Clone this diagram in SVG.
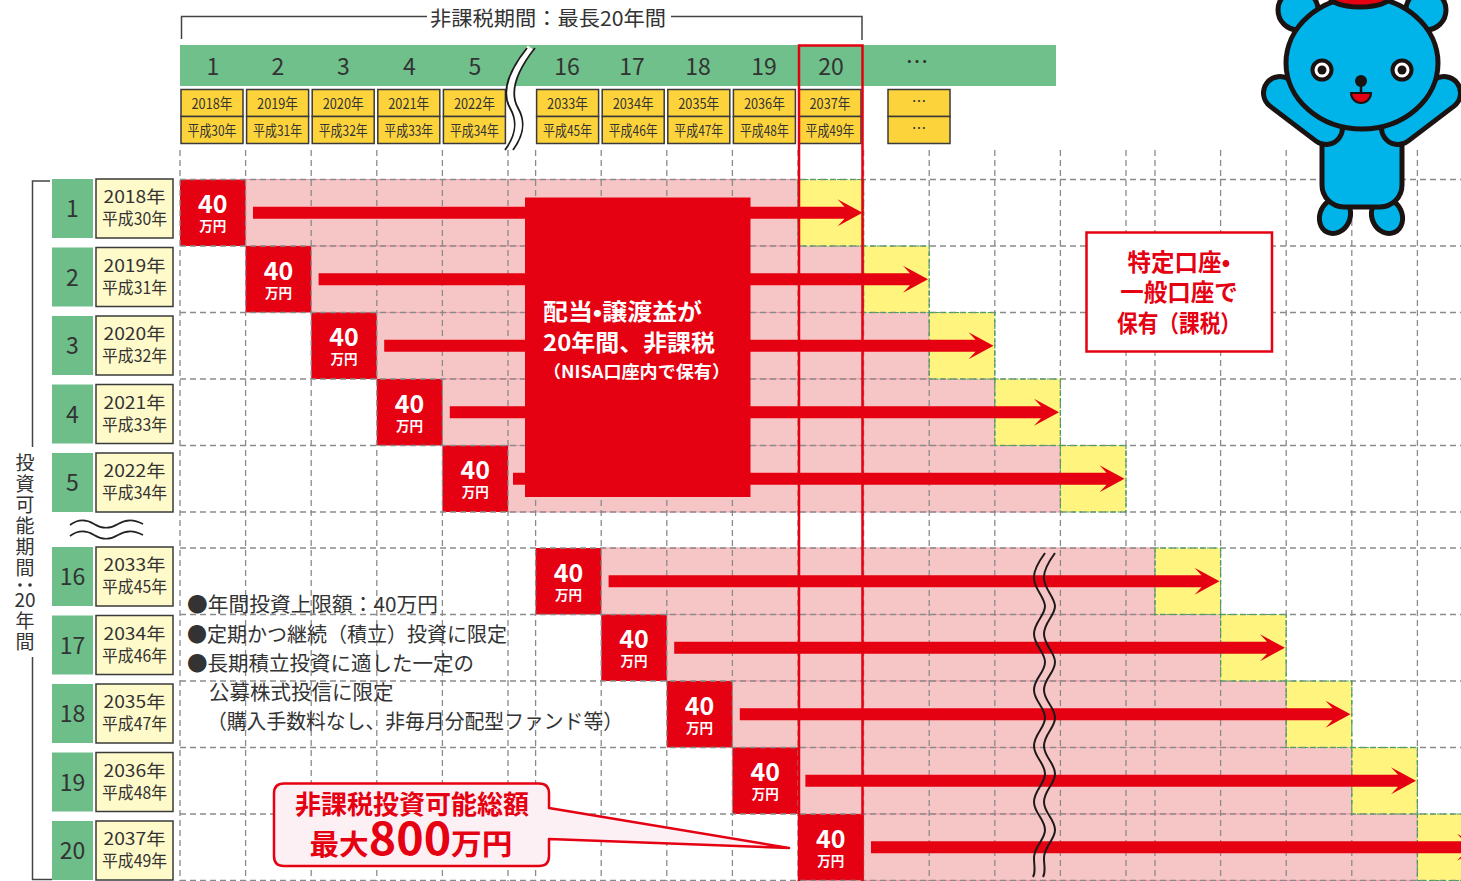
<svg xmlns="http://www.w3.org/2000/svg" width="1461" height="881" viewBox="0 0 1461 881">
  <defs>
    <style>
      .jp { font-family: "Noto Sans CJK JP", "Noto Sans", sans-serif; }
      .grid { stroke: #8a8a8a; stroke-width: 1.3; stroke-dasharray: 6 4; fill: none; }
      .pink { fill: #f6c6c6; stroke: #ef97a3; stroke-width: 1; }
      .tax { fill: #fff47e; }
      .taxedge { fill: none; stroke: #3ea75a; stroke-width: 1.2; stroke-dasharray: 4 2.5; }
      .amt { fill: #e50012; }
      .amt40 { font-size: 25px; font-weight: 700; fill: #fff; text-anchor: middle; }
      .amtyen { font-size: 13.5px; font-weight: 700; fill: #fff; text-anchor: middle; }
      .arrow { fill: #e50012; }
      .hdrnum { font-size: 23px; fill: #333; text-anchor: middle; }
      .ybox { fill: #fdd33c; stroke: #3a3a3a; stroke-width: 1.5; }
      .ytxt { font-size: 14.5px; fill: #333; text-anchor: middle; }
      .rowno { fill: #6dbe89; }
      .rownum { font-size: 23px; fill: #333; text-anchor: middle; }
      .rowyear { fill: #fffaca; stroke: #3a3a3a; stroke-width: 1.5; }
      .rowytxt { font-size: 17px; fill: #333; text-anchor: middle; }
      .note { font-size: 20.5px; fill: #333; }
      .vlabel { font-size: 19px; fill: #333; text-anchor: middle; }
      .ink { stroke: #1a1311; stroke-width: 5; stroke-linejoin: round; }
    </style>
  </defs>

  <rect width="1461" height="881" fill="#fff"/>

  <!-- holding periods: pink = tax-free years, yellow = moved to taxable account -->
  <g id="periods">
    <rect class="pink" x="245.6" y="179.5" width="552.4" height="66.5"/>
    <rect class="pink" x="311.2" y="246" width="552.4" height="66.5"/>
    <rect class="pink" x="376.8" y="312.5" width="552.4" height="66.5"/>
    <rect class="pink" x="442.4" y="379" width="552.4" height="66.5"/>
    <rect class="pink" x="508" y="445.5" width="552.4" height="66.5"/>
    <rect class="pink" x="601.2" y="548" width="553.8" height="66.5"/>
    <rect class="pink" x="666.8" y="614.5" width="553.8" height="66.5"/>
    <rect class="pink" x="732.4" y="681" width="553.8" height="66.5"/>
    <rect class="pink" x="798" y="747.5" width="553.8" height="66.5"/>
    <rect class="pink" x="863.6" y="814" width="553.8" height="66.5"/>

    <rect class="tax" x="798" y="179.5" width="65.6" height="66.5"/>
    <rect class="tax" x="863.6" y="246" width="65.6" height="66.5"/>
    <rect class="tax" x="929.2" y="312.5" width="65.6" height="66.5"/>
    <rect class="tax" x="994.8" y="379" width="65.6" height="66.5"/>
    <rect class="tax" x="1060.4" y="445.5" width="65.6" height="66.5"/>
    <rect class="tax" x="1155" y="548" width="65.6" height="66.5"/>
    <rect class="tax" x="1220.6" y="614.5" width="65.6" height="66.5"/>
    <rect class="tax" x="1286.2" y="681" width="65.6" height="66.5"/>
    <rect class="tax" x="1351.8" y="747.5" width="65.6" height="66.5"/>
    <rect class="tax" x="1417.4" y="814" width="65.6" height="66.5"/>
  </g>

  <!-- yearly 40万円 investments -->
  <g id="investments" class="jp">
    <rect class="amt" x="180" y="179.5" width="65.6" height="66.5"/>
    <rect class="amt" x="245.6" y="246" width="65.6" height="66.5"/>
    <rect class="amt" x="311.2" y="312.5" width="65.6" height="66.5"/>
    <rect class="amt" x="376.8" y="379" width="65.6" height="66.5"/>
    <rect class="amt" x="442.4" y="445.5" width="65.6" height="66.5"/>
    <rect class="amt" x="535.6" y="548" width="65.6" height="66.5"/>
    <rect class="amt" x="601.2" y="614.5" width="65.6" height="66.5"/>
    <rect class="amt" x="666.8" y="681" width="65.6" height="66.5"/>
    <rect class="amt" x="732.4" y="747.5" width="65.6" height="66.5"/>
    <rect class="amt" x="798" y="814" width="65.6" height="66.5"/>

    <text class="amt40" x="212.8" y="213">40</text><text class="amtyen" x="212.8" y="231">万円</text>
    <text class="amt40" x="278.4" y="279.5">40</text><text class="amtyen" x="278.4" y="297.5">万円</text>
    <text class="amt40" x="344" y="346">40</text><text class="amtyen" x="344" y="364">万円</text>
    <text class="amt40" x="409.6" y="412.5">40</text><text class="amtyen" x="409.6" y="430.5">万円</text>
    <text class="amt40" x="475.2" y="479">40</text><text class="amtyen" x="475.2" y="497">万円</text>
    <text class="amt40" x="568.4" y="581.5">40</text><text class="amtyen" x="568.4" y="599.5">万円</text>
    <text class="amt40" x="634" y="648">40</text><text class="amtyen" x="634" y="666">万円</text>
    <text class="amt40" x="699.6" y="714.5">40</text><text class="amtyen" x="699.6" y="732.5">万円</text>
    <text class="amt40" x="765.2" y="781">40</text><text class="amtyen" x="765.2" y="799">万円</text>
    <text class="amt40" x="830.8" y="847.5">40</text><text class="amtyen" x="830.8" y="865.5">万円</text>
  </g>

  <!-- dashed year grid -->
  <g id="grid" class="grid">
    <path d="M180 150V881M245.6 150V881M311.2 150V881M376.8 150V881M442.4 150V881M508 150V881M535.6 150V881M601.2 150V881M666.8 150V881M732.4 150V881M798 150V881M863.6 150V881M929.2 150V881M994.8 150V881M1060.4 150V881M1126 150V881M1155 150V881M1220.6 150V881M1286.2 150V881M1351.8 150V881M1417.4 150V881"/>
    <path d="M180 179.5H1461M180 246H1461M180 312.5H1461M180 379H1461M180 445.5H1461M180 512H1461M180 548H1461M180 614.5H1461M180 681H1461M180 747.5H1461M180 814H1461M180 880.5H1461"/>
  </g>

  <g id="taxable-edges">
    <rect class="taxedge" x="798" y="179.5" width="65.6" height="66.5"/>
    <rect class="taxedge" x="863.6" y="246" width="65.6" height="66.5"/>
    <rect class="taxedge" x="929.2" y="312.5" width="65.6" height="66.5"/>
    <rect class="taxedge" x="994.8" y="379" width="65.6" height="66.5"/>
    <rect class="taxedge" x="1060.4" y="445.5" width="65.6" height="66.5"/>
    <rect class="taxedge" x="1155" y="548" width="65.6" height="66.5"/>
    <rect class="taxedge" x="1220.6" y="614.5" width="65.6" height="66.5"/>
    <rect class="taxedge" x="1286.2" y="681" width="65.6" height="66.5"/>
    <rect class="taxedge" x="1351.8" y="747.5" width="65.6" height="66.5"/>
    <rect class="taxedge" x="1417.4" y="814" width="65.6" height="66.5"/>
  </g>

  <!-- holding arrows, one per investment year -->
  <g id="connectors" class="arrow">
    <path d="M253 206.75H844.5Q841.5 203.5 837.5 199.25L862.5 212.75L837.5 226.25Q841.5 222 844.5 218.75H253Z"/>
    <path d="M318.6 273.25H910Q907 270 903 265.75L928 279.25L903 292.75Q907 288.5 910 285.25H318.6Z"/>
    <path d="M384.2 339.75H975.5Q972.5 336.5 968.5 332.25L993.5 345.75L968.5 359.25Q972.5 355 975.5 351.75H384.2Z"/>
    <path d="M449.8 406.25H1041Q1038 403 1034 398.75L1059 412.25L1034 425.75Q1038 421.5 1041 418.25H449.8Z"/>
    <path d="M513 472.75H1106.5Q1103.5 469.5 1099.5 465.25L1124.5 478.75L1099.5 492.25Q1103.5 488 1106.5 484.75H513Z"/>
    <path d="M608.6 575.25H1201.5Q1198.5 572 1194.5 567.75L1219.5 581.25L1194.5 594.75Q1198.5 590.5 1201.5 587.25H608.6Z"/>
    <path d="M674.2 641.75H1267Q1264 638.5 1260 634.25L1285 647.75L1260 661.25Q1264 657 1267 653.75H674.2Z"/>
    <path d="M739.8 708.25H1332.5Q1329.5 705 1325.5 700.75L1350.5 714.25L1325.5 727.75Q1329.5 723.5 1332.5 720.25H739.8Z"/>
    <path d="M805.4 774.75H1398Q1395 771.5 1391 767.25L1416 780.75L1391 794.25Q1395 790 1398 786.75H805.4Z"/>
    <path d="M871 841.25H1464Q1461 838 1457 833.75L1482 847.25L1457 860.75Q1461 856.5 1464 853.25H871Z"/>
  </g>

  <!-- break marks on the long lower rows -->
  <g id="row-break" fill="none" stroke="#1e1a1a" stroke-width="2">
    <path d="M1045 553C1037 564 1033 572 1034 579C1035 590 1044 596 1045 606C1045 616 1034 622 1034 634C1034 645 1045 652 1045 662C1045 673 1034 678 1034 690C1034 701 1045 707 1045 718C1045 728 1034 734 1034 746C1034 757 1045 763 1045 774C1045 784 1034 790 1034 802C1034 813 1045 819 1045 830C1045 840 1034 846 1034 858C1034 866 1036 872 1033 877"/>
    <path d="M1055 553C1047 564 1043 572 1044 579C1045 590 1054 596 1055 606C1055 616 1044 622 1044 634C1044 645 1055 652 1055 662C1055 673 1044 678 1044 690C1044 701 1055 707 1055 718C1055 728 1044 734 1044 746C1044 757 1055 763 1055 774C1055 784 1044 790 1044 802C1044 813 1055 819 1055 830C1055 840 1044 846 1044 858C1044 866 1046 872 1043 877"/>
  </g>

  <!-- tax-free benefit block -->
  <g id="taxfree-block" class="jp">
    <rect x="525" y="197.5" width="225.5" height="299.5" fill="#e50012"/>
    <text x="543" y="320" font-size="22.5" font-weight="700" fill="#fff" textLength="159" lengthAdjust="spacingAndGlyphs">配当•譲渡益が</text>
    <text x="543" y="351" font-size="22.5" font-weight="700" fill="#fff" textLength="172" lengthAdjust="spacingAndGlyphs">20年間、非課税</text>
    <text x="543" y="378" font-size="17" font-weight="700" fill="#fff" textLength="187" lengthAdjust="spacingAndGlyphs">（NISA口座内で保有）</text>
  </g>

  <!-- header: tax-free span bracket -->
  <g id="span-label" class="jp">
    <path d="M181.5 39V16.5H427M671 16.5H862V40" fill="none" stroke="#444" stroke-width="1.5"/>
    <text x="430" y="26" font-size="20.5" fill="#333" textLength="236" lengthAdjust="spacingAndGlyphs">非課税期間：最長20年間</text>
  </g>

  <!-- header: year numbers -->
  <g id="year-header" class="jp">
    <rect x="180" y="45" width="876" height="41" fill="#70c08b"/>
    <text class="hdrnum" x="213" y="75">1</text>
    <text class="hdrnum" x="278" y="75">2</text>
    <text class="hdrnum" x="343.5" y="75">3</text>
    <text class="hdrnum" x="409.5" y="75">4</text>
    <text class="hdrnum" x="475" y="75">5</text>
    <text class="hdrnum" x="567" y="75">16</text>
    <text class="hdrnum" x="632" y="75">17</text>
    <text class="hdrnum" x="698" y="75">18</text>
    <text class="hdrnum" x="764" y="75">19</text>
    <text class="hdrnum" x="831" y="75">20</text>
    <text class="hdrnum" x="917" y="70" font-size="18">…</text>
  </g>

  <!-- header: calendar years -->
  <g id="calendar-header" class="jp">
    <rect class="ybox" x="181" y="89.5" width="62" height="27"/><rect class="ybox" x="181" y="116.5" width="62" height="27"/>
    <rect class="ybox" x="246.6" y="89.5" width="62" height="27"/><rect class="ybox" x="246.6" y="116.5" width="62" height="27"/>
    <rect class="ybox" x="312.2" y="89.5" width="62" height="27"/><rect class="ybox" x="312.2" y="116.5" width="62" height="27"/>
    <rect class="ybox" x="377.8" y="89.5" width="62" height="27"/><rect class="ybox" x="377.8" y="116.5" width="62" height="27"/>
    <rect class="ybox" x="443.4" y="89.5" width="62" height="27"/><rect class="ybox" x="443.4" y="116.5" width="62" height="27"/>
    <rect class="ybox" x="536.6" y="89.5" width="62" height="27"/><rect class="ybox" x="536.6" y="116.5" width="62" height="27"/>
    <rect class="ybox" x="602.2" y="89.5" width="62" height="27"/><rect class="ybox" x="602.2" y="116.5" width="62" height="27"/>
    <rect class="ybox" x="667.8" y="89.5" width="62" height="27"/><rect class="ybox" x="667.8" y="116.5" width="62" height="27"/>
    <rect class="ybox" x="733.4" y="89.5" width="62" height="27"/><rect class="ybox" x="733.4" y="116.5" width="62" height="27"/>
    <rect class="ybox" x="799" y="89.5" width="62" height="27"/><rect class="ybox" x="799" y="116.5" width="62" height="27"/>
    <rect class="ybox" x="888" y="89.5" width="62" height="27"/><rect class="ybox" x="888" y="116.5" width="62" height="27"/>

    <text class="ytxt" x="212" y="108.5" textLength="41" lengthAdjust="spacingAndGlyphs">2018年</text>
    <text class="ytxt" x="277.6" y="108.5" textLength="41" lengthAdjust="spacingAndGlyphs">2019年</text>
    <text class="ytxt" x="343.2" y="108.5" textLength="41" lengthAdjust="spacingAndGlyphs">2020年</text>
    <text class="ytxt" x="408.8" y="108.5" textLength="41" lengthAdjust="spacingAndGlyphs">2021年</text>
    <text class="ytxt" x="474.4" y="108.5" textLength="41" lengthAdjust="spacingAndGlyphs">2022年</text>
    <text class="ytxt" x="567.6" y="108.5" textLength="41" lengthAdjust="spacingAndGlyphs">2033年</text>
    <text class="ytxt" x="633.2" y="108.5" textLength="41" lengthAdjust="spacingAndGlyphs">2034年</text>
    <text class="ytxt" x="698.8" y="108.5" textLength="41" lengthAdjust="spacingAndGlyphs">2035年</text>
    <text class="ytxt" x="764.4" y="108.5" textLength="41" lengthAdjust="spacingAndGlyphs">2036年</text>
    <text class="ytxt" x="830" y="108.5" textLength="41" lengthAdjust="spacingAndGlyphs">2037年</text>
    <text class="ytxt" x="919" y="107">…</text>

    <text class="ytxt" x="212" y="135.5" textLength="49" lengthAdjust="spacingAndGlyphs">平成30年</text>
    <text class="ytxt" x="277.6" y="135.5" textLength="49" lengthAdjust="spacingAndGlyphs">平成31年</text>
    <text class="ytxt" x="343.2" y="135.5" textLength="49" lengthAdjust="spacingAndGlyphs">平成32年</text>
    <text class="ytxt" x="408.8" y="135.5" textLength="49" lengthAdjust="spacingAndGlyphs">平成33年</text>
    <text class="ytxt" x="474.4" y="135.5" textLength="49" lengthAdjust="spacingAndGlyphs">平成34年</text>
    <text class="ytxt" x="567.6" y="135.5" textLength="49" lengthAdjust="spacingAndGlyphs">平成45年</text>
    <text class="ytxt" x="633.2" y="135.5" textLength="49" lengthAdjust="spacingAndGlyphs">平成46年</text>
    <text class="ytxt" x="698.8" y="135.5" textLength="49" lengthAdjust="spacingAndGlyphs">平成47年</text>
    <text class="ytxt" x="764.4" y="135.5" textLength="49" lengthAdjust="spacingAndGlyphs">平成48年</text>
    <text class="ytxt" x="830" y="135.5" textLength="49" lengthAdjust="spacingAndGlyphs">平成49年</text>
    <text class="ytxt" x="919" y="134">…</text>
  </g>

  <!-- header break mark between year 5 and year 16 -->
  <g id="header-break" fill="none">
    <path d="M531 48C512 72 505 92 514 108C522 122 520 135 509 150" stroke="#fff" stroke-width="8"/>
    <path d="M527 48C508 72 501 92 510 108C518 122 516 135 505 150" stroke="#1e1a1a" stroke-width="1.8"/>
    <path d="M535 48C516 72 509 92 518 108C526 122 524 135 513 150" stroke="#1e1a1a" stroke-width="1.8"/>
  </g>

  <!-- year-20 highlight column -->
  <rect id="year20-frame" x="799" y="45.5" width="63.5" height="837" fill="none" stroke="#e50012" stroke-width="2.5"/>

  <!-- investment period rows -->
  <g id="row-labels" class="jp">
    <rect class="rowno" x="52" y="179" width="41" height="59"/><rect class="rowyear" x="96" y="179" width="77" height="59"/>
    <text class="rownum" x="72.5" y="217">1</text><text class="rowytxt" x="134.5" y="203" textLength="62" lengthAdjust="spacingAndGlyphs">2018年</text><text class="rowytxt" x="134.5" y="225" textLength="65" lengthAdjust="spacingAndGlyphs">平成30年</text>

    <rect class="rowno" x="52" y="247.5" width="41" height="59"/><rect class="rowyear" x="96" y="247.5" width="77" height="59"/>
    <text class="rownum" x="72.5" y="285.5">2</text><text class="rowytxt" x="134.5" y="271.5" textLength="62" lengthAdjust="spacingAndGlyphs">2019年</text><text class="rowytxt" x="134.5" y="293.5" textLength="65" lengthAdjust="spacingAndGlyphs">平成31年</text>

    <rect class="rowno" x="52" y="316" width="41" height="59"/><rect class="rowyear" x="96" y="316" width="77" height="59"/>
    <text class="rownum" x="72.5" y="354">3</text><text class="rowytxt" x="134.5" y="340" textLength="62" lengthAdjust="spacingAndGlyphs">2020年</text><text class="rowytxt" x="134.5" y="362" textLength="65" lengthAdjust="spacingAndGlyphs">平成32年</text>

    <rect class="rowno" x="52" y="384.5" width="41" height="59"/><rect class="rowyear" x="96" y="384.5" width="77" height="59"/>
    <text class="rownum" x="72.5" y="422.5">4</text><text class="rowytxt" x="134.5" y="408.5" textLength="62" lengthAdjust="spacingAndGlyphs">2021年</text><text class="rowytxt" x="134.5" y="430.5" textLength="65" lengthAdjust="spacingAndGlyphs">平成33年</text>

    <rect class="rowno" x="52" y="453" width="41" height="59"/><rect class="rowyear" x="96" y="453" width="77" height="59"/>
    <text class="rownum" x="72.5" y="491">5</text><text class="rowytxt" x="134.5" y="477" textLength="62" lengthAdjust="spacingAndGlyphs">2022年</text><text class="rowytxt" x="134.5" y="499" textLength="65" lengthAdjust="spacingAndGlyphs">平成34年</text>

    <rect class="rowno" x="52" y="547" width="41" height="59"/><rect class="rowyear" x="96" y="547" width="77" height="59"/>
    <text class="rownum" x="72.5" y="585">16</text><text class="rowytxt" x="134.5" y="571" textLength="62" lengthAdjust="spacingAndGlyphs">2033年</text><text class="rowytxt" x="134.5" y="593" textLength="65" lengthAdjust="spacingAndGlyphs">平成45年</text>

    <rect class="rowno" x="52" y="615.5" width="41" height="59"/><rect class="rowyear" x="96" y="615.5" width="77" height="59"/>
    <text class="rownum" x="72.5" y="653.5">17</text><text class="rowytxt" x="134.5" y="639.5" textLength="62" lengthAdjust="spacingAndGlyphs">2034年</text><text class="rowytxt" x="134.5" y="661.5" textLength="65" lengthAdjust="spacingAndGlyphs">平成46年</text>

    <rect class="rowno" x="52" y="684" width="41" height="59"/><rect class="rowyear" x="96" y="684" width="77" height="59"/>
    <text class="rownum" x="72.5" y="722">18</text><text class="rowytxt" x="134.5" y="708" textLength="62" lengthAdjust="spacingAndGlyphs">2035年</text><text class="rowytxt" x="134.5" y="730" textLength="65" lengthAdjust="spacingAndGlyphs">平成47年</text>

    <rect class="rowno" x="52" y="752.5" width="41" height="59"/><rect class="rowyear" x="96" y="752.5" width="77" height="59"/>
    <text class="rownum" x="72.5" y="790.5">19</text><text class="rowytxt" x="134.5" y="776.5" textLength="62" lengthAdjust="spacingAndGlyphs">2036年</text><text class="rowytxt" x="134.5" y="798.5" textLength="65" lengthAdjust="spacingAndGlyphs">平成48年</text>

    <rect class="rowno" x="52" y="821" width="41" height="59"/><rect class="rowyear" x="96" y="821" width="77" height="59"/>
    <text class="rownum" x="72.5" y="859">20</text><text class="rowytxt" x="134.5" y="845" textLength="62" lengthAdjust="spacingAndGlyphs">2037年</text><text class="rowytxt" x="134.5" y="867" textLength="65" lengthAdjust="spacingAndGlyphs">平成49年</text>

    <!-- omitted rows -->
    <path d="M70 525C78 519 86 519 94 524C102 529 110 529 118 524C126 519 134 519 143 524M70 536C78 530 86 530 94 535C102 540 110 540 118 535C126 530 134 530 143 535" fill="none" stroke="#222" stroke-width="1.6"/>
  </g>

  <!-- investable period bracket -->
  <g id="invest-span" class="jp">
    <path d="M50 181H32.5V447M32.5 657V879.5H52" fill="none" stroke="#444" stroke-width="1.5"/>
    <text class="vlabel" x="25" y="470">投</text>
    <text class="vlabel" x="25" y="491">資</text>
    <text class="vlabel" x="25" y="512">可</text>
    <text class="vlabel" x="25" y="533">能</text>
    <text class="vlabel" x="25" y="554">期</text>
    <text class="vlabel" x="25" y="575">間</text>
    <circle cx="20" cy="585" r="1.8" fill="#333"/><circle cx="30" cy="585" r="1.8" fill="#333"/>
    <text class="vlabel" x="25" y="607" font-size="19">20</text>
    <text class="vlabel" x="25" y="628">年</text>
    <text class="vlabel" x="25" y="649">間</text>
  </g>

  <!-- program rules -->
  <g id="rules" class="jp note">
    <text x="187" y="612" textLength="251" lengthAdjust="spacingAndGlyphs">●年間投資上限額：40万円</text>
    <text x="187" y="641.5" textLength="320" lengthAdjust="spacingAndGlyphs">●定期かつ継続（積立）投資に限定</text>
    <text x="187" y="670.5">●長期積立投資に適した一定の</text>
    <text x="209" y="700">公募株式投信に限定</text>
    <text x="207" y="729" textLength="416" lengthAdjust="spacingAndGlyphs">（購入手数料なし、非毎月分配型ファンド等）</text>
  </g>

  <!-- taxable account note -->
  <g id="taxable-note" class="jp">
    <rect x="1086.5" y="232.5" width="185.5" height="119" fill="#fff" stroke="#e50012" stroke-width="2.5"/>
    <text x="1179" y="270.5" font-size="23.5" font-weight="700" fill="#e50012" text-anchor="middle">特定口座•</text>
    <text x="1179" y="301" font-size="23.5" font-weight="700" fill="#e50012" text-anchor="middle">一般口座で</text>
    <text x="1179" y="332" font-size="23.5" font-weight="700" fill="#e50012" text-anchor="middle" textLength="124" lengthAdjust="spacingAndGlyphs">保有（課税）</text>
  </g>

  <!-- total amount callout -->
  <g id="total-callout" class="jp">
    <path d="M284 783.5H539Q549 783.5 549 793.5V808L789 848L549 839V856Q549 866 539 866H284Q274 866 274 856V793.5Q274 783.5 284 783.5Z" fill="#fdf0f5" stroke="#e50012" stroke-width="2.5" stroke-linejoin="round"/>
    <text x="412" y="814" font-size="26" font-weight="700" fill="#e50012" text-anchor="middle">非課税投資可能総額</text>
    <text x="411" y="855" font-weight="700" fill="#e50012" text-anchor="middle" textLength="203" lengthAdjust="spacingAndGlyphs"><tspan font-size="28">最大</tspan><tspan font-size="44">800</tspan><tspan font-size="29">万円</tspan></text>
  </g>

  <!-- mascot -->
  <g id="mascot">
    <ellipse cx="1335" cy="216" rx="15" ry="18" transform="rotate(25 1335 216)" fill="#00b3e8" class="ink"/>
    <ellipse cx="1387" cy="216" rx="15" ry="18" transform="rotate(-25 1387 216)" fill="#00b3e8" class="ink"/>
    <rect x="1322" y="115" width="80" height="92" rx="22" fill="#00b3e8" class="ink"/>
    <path d="M1280 93L1326 128M1444 93L1398 128" stroke="#1a1311" stroke-width="38" stroke-linecap="round" fill="none"/>
    <path d="M1280 93L1326 128M1444 93L1398 128" stroke="#00b3e8" stroke-width="28" stroke-linecap="round" fill="none"/>
    <circle cx="1298" cy="10" r="20" fill="#00b3e8" class="ink"/>
    <circle cx="1426" cy="10" r="20" fill="#00b3e8" class="ink"/>
    <ellipse cx="1362" cy="63" rx="76" ry="66" fill="#00b3e8" class="ink"/>
    <ellipse cx="1360" cy="-3" rx="30" ry="10" fill="#e50012" class="ink" stroke-width="3"/>
    <circle cx="1322" cy="70" r="9.5" fill="#fff" stroke="#1a1311" stroke-width="4"/>
    <circle cx="1322" cy="70" r="4.5" fill="#1a1311"/>
    <circle cx="1402" cy="70" r="9.5" fill="#fff" stroke="#1a1311" stroke-width="4"/>
    <circle cx="1402" cy="70" r="4.5" fill="#1a1311"/>
    <circle cx="1361" cy="81" r="6" fill="#1a1311"/>
    <path d="M1361 82V93" stroke="#1a1311" stroke-width="2.5"/>
    <path d="M1351 93H1371A10 10 0 0 1 1351 93Z" fill="#e50012" stroke="#1a1311" stroke-width="2"/>
  </g>
</svg>
